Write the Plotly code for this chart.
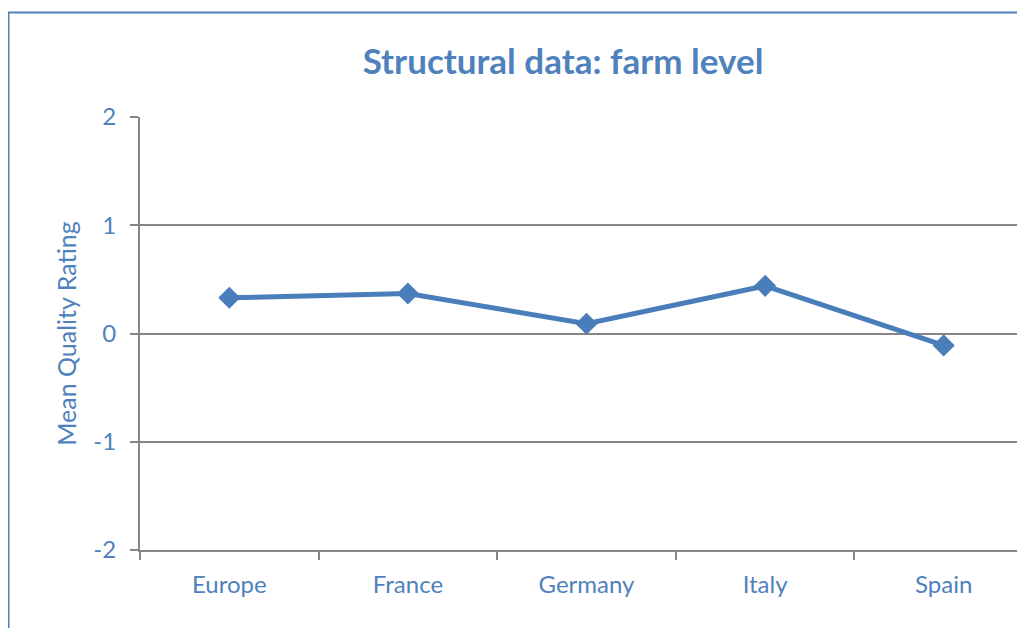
import plotly.graph_objects as go

categories = ["Europe", "France", "Germany", "Italy", "Spain"]
mean_quality = [0.33, 0.37, 0.09, 0.44, -0.11]
y_ticks = [-2, -1, 0, 1, 2]
y_tick_labels = ["-2", "-1", "0", "1", "2"]

BLUE = "#4A7EBB"
TEXT = "#4F81BD"
GRID = "#868686"
FONT = "Lato"

# page body has an 8px margin, so figure coords = screen coords - 8;
# the plot area runs past the right edge of the window, as in the reference
W, H = 1025, 620
L, R, T, B = 132, 0, 109, 78
pw, ph = W - L - R, H - T - B

fig = go.Figure()
fig.add_trace(go.Scatter(
    x=categories, y=mean_quality, mode="lines+markers",
    line=dict(color=BLUE, width=5),
    marker=dict(symbol="diamond", size=17, color=BLUE),
    showlegend=False, cliponaxis=False,
))

# chart border (frame is cropped on right/bottom in reference)
bx0 = (0.5 - L) / pw
by1 = (H - B - 4.5) / ph
fig.add_shape(type="rect", xref="paper", yref="paper",
              x0=bx0, x1=1.2, y0=-0.5, y1=by1,
              line=dict(color="#4F81BD", width=2), fillcolor="rgba(0,0,0,0)", layer="below")

fig.update_layout(
    width=W, height=H,
    margin=dict(l=L, r=R, t=T, b=B, autoexpand=False),
    paper_bgcolor="white", plot_bgcolor="white",
    title=dict(text="<b>Structural data: farm level</b>", x=(555 - L) / pw, xref="paper",
               xanchor="center", y=1 - 54 / H, yref="container", yanchor="middle",
               font=dict(family=FONT, size=35, color=TEXT)),
    font=dict(family=FONT, color=TEXT, size=24),
)
fig.update_xaxes(
    type="category", range=[-0.5, 4.5],
    showgrid=False, showline=True, linecolor=GRID, linewidth=2,
    ticks="outside", tickson="boundaries", ticklen=8, tickwidth=1.5, tickcolor=GRID,
    tickfont=dict(family=FONT, size=24, color=TEXT),
    ticklabelstandoff=12,
)
fig.update_yaxes(
    range=[-2, 2], tickvals=y_ticks, ticktext=y_tick_labels, zeroline=False,
    showgrid=True, gridcolor=GRID, gridwidth=1.5,
    showline=True, linecolor=GRID, linewidth=2,
    ticks="outside", ticklen=8, tickwidth=1.5, tickcolor=GRID,
    tickfont=dict(family=FONT, size=24, color=TEXT),
    ticklabelstandoff=9,
    title=dict(text="Mean Quality Rating", standoff=10,
               font=dict(family=FONT, size=25, color=TEXT)),
)

fig.write_html("out.html")
